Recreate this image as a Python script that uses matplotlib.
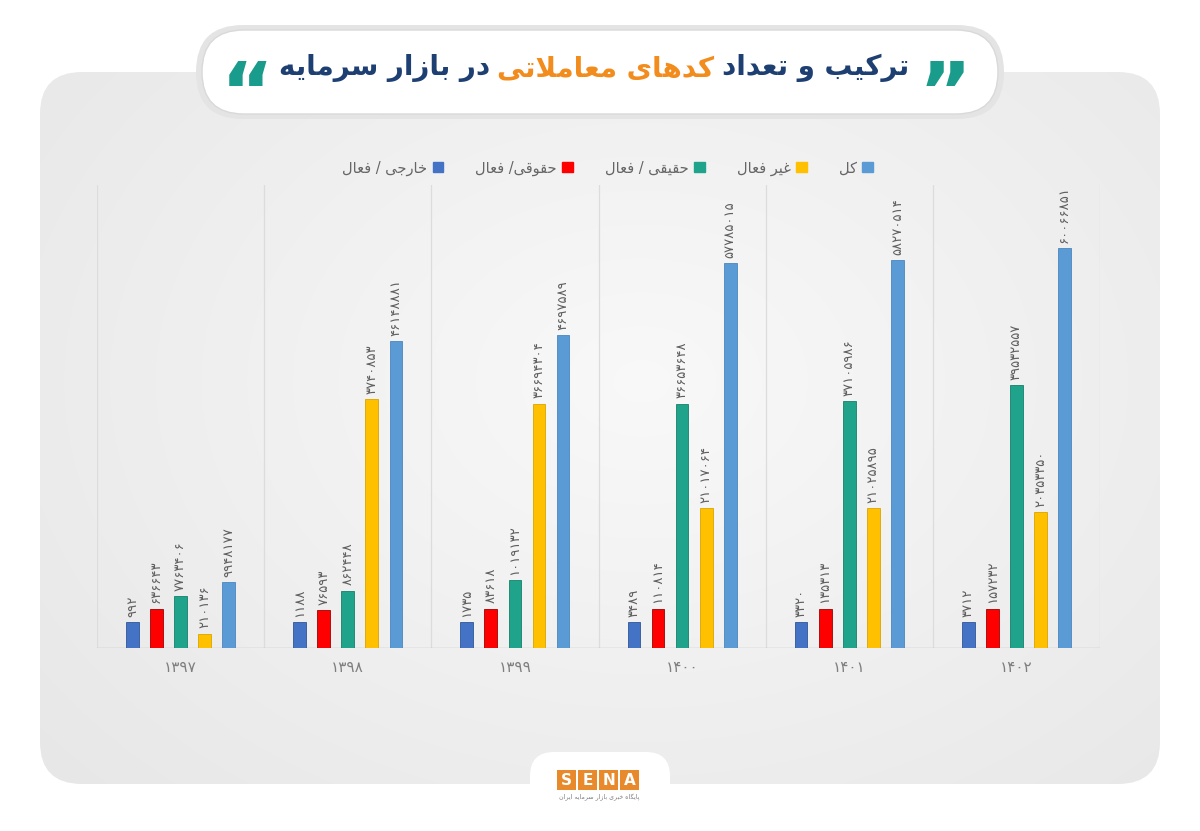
import numpy as np
import matplotlib
matplotlib.use('Agg')
import matplotlib.pyplot as plt
from matplotlib.patches import FancyBboxPatch, Patch, Rectangle

plt.rcParams['font.family'] = ['DejaVu Sans']

# --- data (heights as drawn, in millions; labels as printed on the chart) ---
years = ['۱۳۹۷', '۱۳۹۸', '۱۳۹۹', '۱۴۰۰', '۱۴۰۱', '۱۴۰۲']
series_names = ['خارجی / فعال', 'حقوقی/ فعال', 'حقیقی / فعال', 'غیر فعال', 'کل']
colors = ['#4472C4', '#FF0000', '#1FA38A', '#FFC000', '#5B9BD5']
edges = ['#2f5597', '#a00000', '#16806b', '#d9a400', '#4a86bf']

khareji = [0.39, 0.39, 0.39, 0.39, 0.39, 0.39]
hoghooghi = [0.59, 0.57, 0.59, 0.59, 0.59, 0.59]
haghighi = [0.78, 0.86, 1.02, 3.67, 3.71, 3.95]
gheyr_faal = [0.21, 3.74, 3.67, 2.10, 2.10, 2.04]
kol = [0.99, 4.61, 4.70, 5.78, 5.83, 6.01]

khareji_lbl = ['۹۹۲', '۱۱۸۸', '۱۷۳۵', '۳۴۸۹', '۳۳۲۰', '۳۷۱۲']
hoghooghi_lbl = ['۶۳۶۶۴۳', '۷۶۵۹۳', '۸۳۶۱۸', '۱۱۰۸۱۴', '۱۳۵۳۱۳', '۱۵۷۲۳۲']
haghighi_lbl = ['۷۷۶۳۴۰۶', '۸۶۲۴۴۸', '۱۰۱۹۱۳۲', '۳۶۶۵۳۶۴۸', '۳۷۱۰۵۹۸۶', '۳۹۵۳۲۵۵۷']
gheyr_faal_lbl = ['۲۱۰۱۳۶', '۳۷۴۰۸۵۳', '۳۶۶۹۴۳۰۴', '۲۱۰۱۷۰۶۴', '۲۱۰۲۵۸۹۵', '۲۰۳۵۳۳۵۰']
kol_lbl = ['۹۹۴۸۱۷۷', '۴۶۱۴۸۸۸۱', '۴۶۹۷۵۸۹', '۵۷۷۸۵۰۱۵', '۵۸۲۷۰۵۱۴', '۶۰۰۶۶۸۵۱']

title_a = 'ترکیب و تعداد'
title_b = 'کدهای معاملاتی'
title_c = 'در بازار سرمایه'

# --- minimal Persian shaping (presentation forms + RTL reversal) ---
F = {
    'ا': (0xFE8D, 0xFE8E, None, None), 'آ': (0xFE81, 0xFE82, None, None),
    'ب': (0xFE8F, 0xFE90, 0xFE91, 0xFE92), 'پ': (0xFB56, 0xFB57, 0xFB58, 0xFB59),
    'ت': (0xFE95, 0xFE96, 0xFE97, 0xFE98), 'ث': (0xFE99, 0xFE9A, 0xFE9B, 0xFE9C),
    'ج': (0xFE9D, 0xFE9E, 0xFE9F, 0xFEA0), 'چ': (0xFB7A, 0xFB7B, 0xFB7C, 0xFB7D),
    'ح': (0xFEA1, 0xFEA2, 0xFEA3, 0xFEA4), 'خ': (0xFEA5, 0xFEA6, 0xFEA7, 0xFEA8),
    'د': (0xFEA9, 0xFEAA, None, None), 'ذ': (0xFEAB, 0xFEAC, None, None),
    'ر': (0xFEAD, 0xFEAE, None, None), 'ز': (0xFEAF, 0xFEB0, None, None),
    'ژ': (0xFB8A, 0xFB8B, None, None),
    'س': (0xFEB1, 0xFEB2, 0xFEB3, 0xFEB4), 'ش': (0xFEB5, 0xFEB6, 0xFEB7, 0xFEB8),
    'ص': (0xFEB9, 0xFEBA, 0xFEBB, 0xFEBC), 'ض': (0xFEBD, 0xFEBE, 0xFEBF, 0xFEC0),
    'ط': (0xFEC1, 0xFEC2, 0xFEC3, 0xFEC4), 'ظ': (0xFEC5, 0xFEC6, 0xFEC7, 0xFEC8),
    'ع': (0xFEC9, 0xFECA, 0xFECB, 0xFECC), 'غ': (0xFECD, 0xFECE, 0xFECF, 0xFED0),
    'ف': (0xFED1, 0xFED2, 0xFED3, 0xFED4), 'ق': (0xFED5, 0xFED6, 0xFED7, 0xFED8),
    'ک': (0xFB8E, 0xFB8F, 0xFB90, 0xFB91), 'گ': (0xFB92, 0xFB93, 0xFB94, 0xFB95),
    'ل': (0xFEDD, 0xFEDE, 0xFEDF, 0xFEE0), 'م': (0xFEE1, 0xFEE2, 0xFEE3, 0xFEE4),
    'ن': (0xFEE5, 0xFEE6, 0xFEE7, 0xFEE8), 'و': (0xFEED, 0xFEEE, None, None),
    'ه': (0xFEE9, 0xFEEA, 0xFEEB, 0xFEEC), 'ی': (0xFBFC, 0xFBFD, 0xFBFE, 0xFBFF),
    'LA': (0xFEFB, 0xFEFC, None, None),
}

def fa(s):
    units = []
    i = 0
    while i < len(s):
        if s[i] == 'ل' and i + 1 < len(s) and s[i + 1] == 'ا':
            units.append('LA'); i += 2
        else:
            units.append(s[i]); i += 1
    out = []
    for k, u in enumerate(units):
        if u not in F:
            out.append(u); continue
        prev = units[k - 1] if k > 0 else None
        nxt = units[k + 1] if k + 1 < len(units) else None
        cp = prev in F and F[prev][2] is not None
        cn = F[u][2] is not None and nxt in F
        iso, fin, ini, med = F[u]
        code = med if (cp and cn) else fin if cp else ini if cn else iso
        out.append(chr(code))
    return ''.join(out[::-1])

# --- figure ---
fig = plt.figure(figsize=(12, 8.31), dpi=100)
fig.patch.set_facecolor('white')
bg = fig.add_axes([0, 0, 1, 1], zorder=0)
bg.set_xlim(0, 1200); bg.set_ylim(831, 0); bg.axis('off')

# grey panel with soft radial gradient
panel = FancyBboxPatch((40, 72), 1120, 712, boxstyle='round,pad=0,rounding_size=42',
                       facecolor='none', edgecolor='none')
bg.add_patch(panel)
yy, xx = np.mgrid[0:831:4, 0:1200:4]
r = np.sqrt(((xx - 640) / 700.0) ** 2 + ((yy - 380) / 520.0) ** 2)
g = np.clip(0.975 - 0.06 * r, 0.9, 0.975)
img = bg.imshow(np.dstack([g, g, g]), extent=(0, 1200, 831, 0), zorder=0.5, interpolation='bilinear')
img.set_clip_path(panel)

# title pill
bg.add_patch(FancyBboxPatch((196, 25), 808, 94, boxstyle='round,pad=0,rounding_size=47',
                            facecolor='#e4e4e4', edgecolor='none', zorder=1))
bg.add_patch(FancyBboxPatch((202, 30), 796, 84, boxstyle='round,pad=0,rounding_size=42',
                            facecolor='white', edgecolor='#d9d9d9', lw=1.0, zorder=1.1))

# bottom tab with SENA logo
bg.add_patch(FancyBboxPatch((530, 752), 140, 100, boxstyle='round,pad=0,rounding_size=24',
                            facecolor='white', edgecolor='none', zorder=1))
for j, ch in enumerate('SENA'):
    x0 = 557 + j * 21
    bg.add_patch(Rectangle((x0, 770), 19, 20, facecolor='#E8892B', edgecolor='none', zorder=2))
    bg.text(x0 + 9.5, 780.5, ch, color='white', fontsize=11, fontweight='bold',
            ha='center', va='center', zorder=3)
bg.text(599, 797, fa('پایگاه خبری بازار سرمایه ایران'), color='#7a7a7a', fontsize=4.5,
        ha='center', va='center', zorder=3)

# title: three coloured runs, laid out right-to-left
navy, orange, teal = '#1d3f72', '#F28C1C', '#1a9c8c'
runs = [(fa(title_c), navy), (fa(title_b), orange), (fa(title_a), navy)]
tobjs = [bg.text(0, 68, s, color=c, fontsize=20, fontweight='bold', ha='left', va='center', zorder=3)
         for s, c in runs]
renderer = fig.canvas.get_renderer()
widths = [t.get_window_extent(renderer).width for t in tobjs]
gap = 7
total = sum(widths) + gap * (len(widths) - 1)
x = 594 - total / 2
for t, w in zip(tobjs, widths):
    t.set_x(x); x += w + gap
bg.text(945, 98, '\u201d', color=teal, fontsize=58, fontweight='bold', ha='center', va='center', zorder=3)
bg.text(247, 98, '\u201c', color=teal, fontsize=58, fontweight='bold', ha='center', va='center', zorder=3)

# --- bar chart ---
ax = fig.add_axes([97 / 1200, 1 - 648 / 831, 1003 / 1200, 463 / 831], zorder=2)
ax.set_facecolor('none')
series = [khareji, hoghooghi, haghighi, gheyr_faal, kol]
labels = [khareji_lbl, hoghooghi_lbl, haghighi_lbl, gheyr_faal_lbl, kol_lbl]
xpos = np.arange(len(years))
step, width = 0.144, 0.076
for k, (vals, lbls) in enumerate(zip(series, labels)):
    xs = xpos + (k - 2) * step
    ax.bar(xs, vals, width=width, color=colors[k], edgecolor=edges[k], linewidth=0.6, zorder=3)
    for xv, v, l in zip(xs, vals, lbls):
        ax.annotate(l, (xv, v), xytext=(0, 4), textcoords='offset points', rotation=90,
                    ha='center', va='bottom', fontsize=9.5, color='#5f5f5f', zorder=4)

ax.set_xlim(-0.5, len(years) - 0.5)
ax.set_ylim(0, 6.96)
for b in np.arange(-0.5, len(years), 1.0):
    ax.axvline(b, color='#dcdcdc', lw=0.9, zorder=1)
ax.axhline(0, color='#bfbfbf', lw=1.0, zorder=2)
for s in ax.spines.values():
    s.set_visible(False)
ax.set_yticks([])
ax.set_xticks(xpos)
ax.set_xticklabels(years, fontsize=11, color='#7f7f7f')
ax.tick_params(axis='x', length=0, pad=9)

handles = [Patch(facecolor=c, edgecolor=c) for c in colors]
fig.legend(handles, [fa(n) for n in series_names], loc='center', bbox_to_anchor=(0.506, 1 - 168 / 831),
           ncol=5, frameon=False, markerfirst=False, fontsize=10.5, labelcolor='#666666',
           handlelength=0.7, handleheight=0.7, handletextpad=0.4, columnspacing=2.2)

fig.savefig('out.png', dpi=100)
